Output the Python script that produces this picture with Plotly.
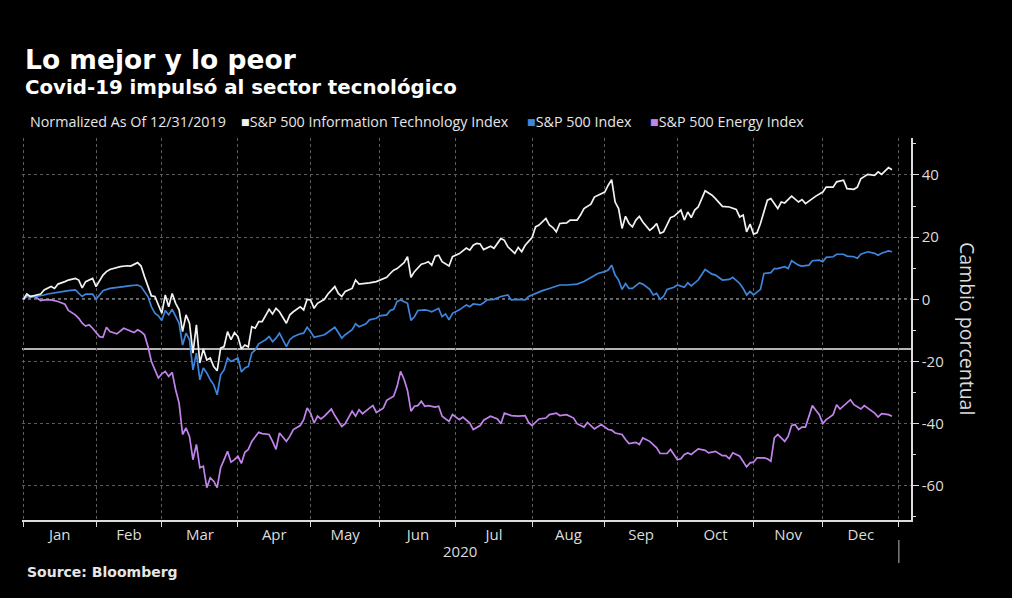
import plotly.graph_objects as go

# ---------------- data (x = trading-day index, 0 = 31 Dec 2019) ----------------
month_labels = ["Jan", "Feb", "Mar", "Apr", "May", "Jun",
                "Jul", "Aug", "Sep", "Oct", "Nov", "Dec"]
month_end_days = [0, 21, 40, 62, 83, 103, 125, 147, 168, 189, 211, 231, 253]
y_tick_vals = [-60, -40, -20, 0, 20, 40]
y_tick_text = ["-60", "-40", "-20", "0", "20", "40"]
y_minor_vals = [-70, -50, -30, -10, 10, 30, 50]

it_days = [0, 1, 2, 3, 5, 6, 8, 9, 10, 12, 13, 15, 16, 17, 18, 20, 21, 23, 24, 25, 27, 28, 30, 31,
           33, 34, 35, 37, 38, 39, 40, 41, 42, 43, 44, 45, 46, 47, 48, 49, 50, 51, 52, 53, 54, 55,
           56, 57, 58, 59, 60, 61, 62, 63, 64, 65, 66, 67, 68, 69, 71, 72, 73, 74, 76, 77, 78, 80,
           81, 82, 83, 84, 85, 87, 88, 90, 91, 92, 93, 95, 96, 97, 99, 100, 102, 104, 105, 106, 107,
           108, 109, 110, 111, 112, 113, 115, 116, 117, 118, 119, 120, 121, 123, 124, 126, 128, 129,
           130, 131, 132, 133, 135, 136, 138, 139, 140, 142, 143, 144, 145, 147, 148, 149, 151, 152,
           153, 154, 155, 157, 158, 160, 161, 162, 164, 165, 166, 168, 169, 170, 171, 172, 173, 174,
           175, 176, 177, 178, 179, 181, 182, 183, 184, 185, 187, 188, 190, 191, 192, 193, 194, 195,
           197, 199, 200, 202, 204, 206, 207, 208, 209, 210, 211, 212, 213, 215, 216, 218, 219, 220,
           222, 224, 225, 226, 228, 229, 231, 232, 234, 235, 237, 238, 240, 241, 242, 244, 246, 247,
           248, 250, 251]
it_vals = [0.0, 1.7, 0.9, 1.1, 1.7, 3.0, 4.1, 3.5, 4.9, 5.7, 6.2, 6.7, 6.2, 3.7, 5.7, 6.7, 4.1, 7.8,
           8.9, 9.6, 10.3, 10.5, 10.8, 10.7, 11.8, 10.7, 7.3, 1.1, 0.9, -1.8, -4.5, 1.4, -2.4, 1.9,
           -1.3, -3.4, -10.4, -5.0, -7.7, -17.3, -8.2, -20.5, -16.0, -19.5, -18.9, -21.6, -23.0,
           -15.7, -15.2, -10.4, -13.0, -10.7, -12.0, -16.0, -14.7, -15.3, -8.8, -9.3, -7.2, -7.2,
           -3.2, -4.7, -2.9, -4.0, -7.7, -5.0, -4.0, -2.4, -3.4, 0.0, -0.2, -2.9, -1.3, 0.0, 1.7,
           4.1, 1.9, 0.9, 2.5, 3.5, 6.2, 4.9, 5.1, 5.3, 5.7, 6.7, 7.1, 8.3, 9.4, 9.9, 11.0, 11.8,
           13.7, 7.1, 8.9, 11.3, 11.6, 12.1, 11.0, 13.9, 14.2, 12.1, 10.7, 13.7, 14.7, 16.5, 15.8,
           17.4, 18.0, 17.8, 16.0, 17.1, 16.4, 19.6, 19.0, 16.9, 14.8, 16.7, 15.3, 17.4, 19.9, 23.3,
           23.9, 26.0, 23.9, 23.1, 21.7, 24.4, 24.6, 25.5, 25.5, 27.1, 29.2, 30.6, 32.9, 33.5, 34.5,
           36.7, 38.5, 31.3, 29.2, 22.8, 26.7, 24.4, 23.3, 25.5, 26.7, 24.9, 22.2, 23.1, 24.4, 21.2,
           21.7, 26.3, 26.7, 28.7, 25.5, 28.1, 26.3, 28.7, 29.7, 34.9, 33.5, 32.4, 29.9, 29.7, 28.9,
           26.5, 27.1, 21.7, 24.2, 21.0, 21.4, 24.4, 31.9, 32.4, 29.2, 31.3, 31.0, 33.2, 31.3, 32.1,
           30.8, 32.4, 33.2, 34.5, 36.1, 36.1, 37.8, 38.3, 35.6, 35.4, 36.1, 38.8, 40.2, 39.9, 41.0,
           40.2, 42.4, 41.7]

spx_days = [0, 1, 2, 4, 6, 7, 9, 11, 13, 15, 17, 18, 20, 21, 23, 25, 27, 29, 31, 33, 34, 36, 37,
            38, 39, 40, 41, 42, 43, 44, 45, 46, 47, 48, 49, 50, 51, 52, 53, 54, 55, 56, 57, 58, 59,
            60, 62, 63, 64, 65, 66, 67, 68, 70, 71, 72, 73, 74, 76, 77, 78, 80, 81, 82, 83, 84, 86,
            87, 89, 90, 91, 92, 93, 95, 96, 97, 99, 100, 102, 103, 105, 106, 107, 108, 109, 111, 112,
            113, 114, 116, 117, 118, 120, 121, 122, 123, 124, 126, 128, 129, 130, 132, 133, 134, 136,
            138, 140, 141, 143, 145, 146, 148, 150, 152, 154, 155, 157, 159, 160, 162, 164, 166, 168,
            169, 170, 171, 172, 173, 174, 175, 176, 178, 179, 181, 182, 183, 184, 185, 186, 188, 189,
            191, 192, 193, 195, 197, 199, 200, 202, 204, 205, 207, 208, 209, 210, 211, 213, 214, 216,
            217, 218, 220, 221, 222, 224, 225, 227, 228, 230, 231, 232, 234, 235, 237, 238, 240, 241,
            242, 244, 246, 247, 248, 250, 251]
spx_vals = [0.0, 1.1, 0.6, 0.9, 1.4, 1.7, 2.1, 2.5, 2.8, 3.0, 0.9, 1.7, 1.7, 0.0, 2.8, 3.5, 3.9, 4.1,
            4.4, 4.6, 4.1, 0.9, -2.4, -4.5, -5.3, -6.8, -3.6, -5.0, -3.2, -5.3, -7.7, -14.7, -10.9,
            -13.0, -22.7, -17.3, -25.9, -22.1, -23.7, -25.9, -27.5, -30.7, -24.3, -22.7, -18.9,
            -20.0, -18.9, -23.4, -22.1, -21.6, -17.3, -16.3, -14.3, -13.0, -12.0, -13.6, -12.5,
            -10.9, -15.2, -13.0, -12.0, -11.1, -10.9, -9.0, -10.4, -12.2, -11.8, -11.4, -9.8, -9.0,
            -10.7, -12.5, -11.4, -9.8, -7.9, -8.8, -7.9, -6.6, -6.1, -5.3, -5.0, -3.6, -3.2, -0.7,
            -0.2, -1.3, -6.8, -5.6, -3.6, -3.4, -3.6, -4.0, -2.9, -5.6, -4.7, -6.6, -4.5, -3.4, -1.8,
            -2.4, -1.5, -1.8, -1.1, -0.2, 0.0, 0.9, 1.4, -0.2, 0.0, -0.2, 0.9, 1.9, 2.8, 3.5, 4.1,
            4.6, 4.6, 4.9, 4.9, 5.7, 7.1, 8.3, 8.9, 9.4, 11.0, 7.8, 6.2, 3.2, 5.1, 3.5, 3.5, 5.3,
            4.9, 3.2, 1.4, 1.9, 0.0, 0.9, 3.2, 3.9, 4.6, 3.9, 5.3, 4.3, 6.2, 9.6, 8.1, 7.8, 6.2, 6.4,
            7.1, 5.1, 3.5, 1.4, 2.5, 1.4, 3.2, 8.3, 8.6, 9.9, 9.9, 10.5, 9.9, 12.4, 11.0, 10.7, 11.0,
            12.4, 12.6, 12.1, 13.5, 13.7, 14.5, 14.5, 13.9, 13.7, 13.2, 14.5, 15.3, 14.8, 14.2, 14.8,
            15.6, 15.3]

energy_days = [0, 1, 3, 5, 6, 8, 10, 12, 13, 15, 16, 17, 18, 19, 20, 22, 23, 24, 25, 27, 29, 30,
               32, 33, 34, 35, 36, 37, 39, 40, 41, 42, 43, 44, 45, 46, 47, 48, 49, 50, 51, 52, 53,
               54, 55, 56, 57, 58, 59, 60, 61, 62, 63, 64, 65, 66, 68, 69, 71, 72, 73, 74, 76, 77,
               78, 80, 81, 82, 83, 84, 85, 86, 87, 89, 90, 92, 93, 95, 96, 97, 98, 100, 101, 102,
               104, 105, 107, 108, 109, 110, 111, 112, 113, 114, 115, 116, 117, 119, 120, 121, 123,
               124, 126, 127, 129, 130, 132, 133, 135, 137, 138, 139, 141, 143, 145, 146, 147, 149,
               151, 152, 154, 155, 157, 159, 160, 162, 163, 165, 166, 167, 169, 170, 171, 173, 174,
               175, 177, 178, 179, 181, 183, 184, 186, 187, 188, 189, 190, 191, 192, 193, 195, 197,
               198, 200, 202, 203, 204, 205, 207, 208, 209, 210, 211, 212, 214, 215, 216, 217, 218,
               220, 221, 222, 223, 224, 225, 226, 228, 229, 230, 231, 232, 234, 235, 236, 237, 239,
               240, 242, 243, 244, 246, 247, 248, 250, 251]
energy_vals = [0.0, 0.9, 1.1, -0.4, -0.2, -0.2, -0.7, -1.6, -3.6, -5.0, -6.1, -7.7, -8.6, -8.2,
               -9.3, -12.0, -12.2, -9.0, -10.4, -11.1, -9.3, -9.8, -10.7, -9.8, -10.4, -11.4, -15.2,
               -20.0, -25.3, -24.0, -23.2, -24.8, -23.5, -29.1, -33.4, -43.5, -41.4, -44.1, -51.6,
               -46.7, -54.2, -53.7, -60.6, -57.4, -58.5, -60.6, -54.2, -51.6, -48.9, -52.4, -51.6,
               -50.5, -52.8, -49.2, -48.3, -45.7, -42.8, -43.2, -43.5, -45.7, -48.3, -43.0, -45.7,
               -44.1, -41.9, -40.6, -38.7, -35.0, -36.6, -39.8, -37.6, -38.5, -37.6, -35.3, -37.4,
               -40.9, -40.0, -36.0, -37.6, -35.5, -36.8, -35.0, -34.2, -36.4, -35.0, -32.5, -31.2,
               -28.0, -23.2, -25.7, -29.3, -36.0, -34.4, -34.2, -32.8, -34.4, -34.2, -34.7, -34.4,
               -37.6, -39.3, -37.1, -38.7, -37.9, -39.8, -41.9, -40.6, -38.9, -37.6, -38.5, -40.0,
               -36.6, -37.4, -37.6, -37.4, -39.6, -40.6, -38.5, -38.2, -37.1, -36.6, -37.4, -37.1,
               -38.2, -40.0, -41.1, -39.6, -41.7, -41.1, -40.3, -41.9, -42.1, -43.0, -43.5, -45.1,
               -46.4, -46.0, -46.7, -44.6, -45.7, -47.8, -49.6, -49.6, -48.3, -49.9, -51.6, -51.3,
               -49.9, -49.4, -49.9, -48.1, -48.6, -49.4, -48.9, -50.3, -50.3, -51.3, -49.4, -50.5,
               -52.4, -53.9, -52.6, -52.4, -51.0, -51.0, -51.3, -52.1, -44.6, -43.5, -45.7, -44.1,
               -40.6, -40.3, -41.9, -41.1, -41.1, -34.2, -35.7, -37.1, -40.0, -38.7, -37.1, -33.9,
               -35.3, -34.4, -32.3, -33.9, -35.3, -34.2, -35.0, -36.6, -37.9, -36.8, -37.1, -37.6]

reference_level = -16.0

# ---------------- styling ----------------
W, H = 1012, 598
PL, PR, PT, PB = 22, 911, 138, 520   # plot area in pixels

WHITE = "#f2f2f2"
BLUE = "#3d86dc"
PURPLE = "#c283ec"
GRID = "#5c5c5c"
TEXT = "#e6e6e6"


def paper(px, py):
    return (px - PL) / (PR - PL), (PB - py) / (PB - PT)


month_mid = [(month_end_days[i] + month_end_days[i + 1]) / 2 for i in range(12)]

fig = go.Figure()
fig.add_trace(go.Scatter(x=energy_days, y=energy_vals, mode="lines",
                         line=dict(color=PURPLE, width=1.7), name="S&P 500 Energy Index"))
fig.add_trace(go.Scatter(x=spx_days, y=spx_vals, mode="lines",
                         line=dict(color=BLUE, width=1.7), name="S&P 500 Index"))
fig.add_trace(go.Scatter(x=it_days, y=it_vals, mode="lines",
                         line=dict(color=WHITE, width=1.7),
                         name="S&P 500 Information Technology Index"))

fig.update_layout(
    width=W, height=H,
    paper_bgcolor="black", plot_bgcolor="black",
    margin=dict(l=PL, r=W - PR, t=PT, b=H - PB, pad=0),
    showlegend=False,
    font=dict(family="Open Sans, DejaVu Sans, sans-serif", color=TEXT),
    xaxis=dict(
        range=[-0.4, 256.5], tickmode="array", tickvals=month_mid, ticktext=month_labels,
        ticks="", showgrid=False, zeroline=False,
        showline=True, linecolor="#dcdcdc", linewidth=1.5,
        tickfont=dict(size=15, color="#dcdcdc"),
        minor=dict(tickmode="array", tickvals=month_end_days, ticks="outside", ticklen=5,
                   tickwidth=1, tickcolor="#dcdcdc", showgrid=True, gridcolor=GRID,
                   griddash="dot", gridwidth=1),
    ),
    yaxis=dict(
        side="right", range=[-71, 51.9], tickmode="array", tickvals=y_tick_vals,
        ticktext=y_tick_text, ticks="outside", ticklen=6, tickcolor="#dcdcdc",
        showgrid=True, gridcolor=GRID, griddash="dot", gridwidth=1, zeroline=False,
        showline=True, linecolor="#dcdcdc", linewidth=1.5,
        tickfont=dict(size=15, color="#dcdcdc"),
        minor=dict(tickmode="array", tickvals=y_minor_vals, ticks="outside", ticklen=3,
                   tickcolor="#dcdcdc", showgrid=False),
    ),
)

# zero line (dotted, bright) and solid reference line
fig.add_shape(type="line", xref="paper", yref="y", x0=0, x1=1, y0=0, y1=0,
              line=dict(color="#e0e0e0", width=1.6, dash="dot"), layer="below")
fig.add_shape(type="line", xref="paper", yref="y", x0=0, x1=1,
              y0=reference_level, y1=reference_level,
              line=dict(color="#f0f0f0", width=1.5), layer="below")
# year separator below the axis
_, ys0 = paper(0, 540)
_, ys1 = paper(0, 563)
fig.add_shape(type="line", xref="x", yref="paper", x0=month_end_days[-1], x1=month_end_days[-1],
              y0=ys0, y1=ys1, line=dict(color="#bbbbbb", width=1))

annotations = []


def add_text(px, py, text, size, family, color=TEXT, xanchor="left", angle=0):
    x, y = paper(px, py)
    annotations.append(dict(x=x, y=y, xref="paper", yref="paper", text=text, showarrow=False,
                            xanchor=xanchor, yanchor="middle", textangle=angle,
                            font=dict(size=size, family=family, color=color)))


add_text(23, 60, "<b>Lo mejor y lo peor</b>", 26.5, "DejaVu Sans", "#ffffff")
add_text(23, 88, "<b>Covid-19 impulsó al sector tecnológico</b>", 19.8, "DejaVu Sans", "#ffffff")
add_text(28, 122, "Normalized As Of 12/31/2019", 14.3, "Open Sans", TEXT)
add_text(239, 122, f"<span style='color:{WHITE}'>■</span>S&P 500 Information Technology Index",
         14.3, "Open Sans", TEXT)
add_text(525, 122, f"<span style='color:{BLUE}'>■</span>S&P 500 Index", 14.3, "Open Sans", TEXT)
add_text(648, 122, f"<span style='color:{PURPLE}'>■</span>S&P 500 Energy Index",
         14.3, "Open Sans", TEXT)
add_text(25, 572, "<b>Source: Bloomberg</b>", 14, "DejaVu Sans", TEXT)
add_text(460, 551, "2020", 15, "Open Sans", "#dcdcdc", xanchor="center")
add_text(968, 328, "Cambio porcentual", 19.5, "Open Sans", "#dcdcdc", xanchor="center", angle=90)

fig.update_layout(annotations=annotations)
fig.write_html("out.html", config={"displayModeBar": False},
               post_script="document.body.style.margin='0px';document.body.style.padding='0px';")
